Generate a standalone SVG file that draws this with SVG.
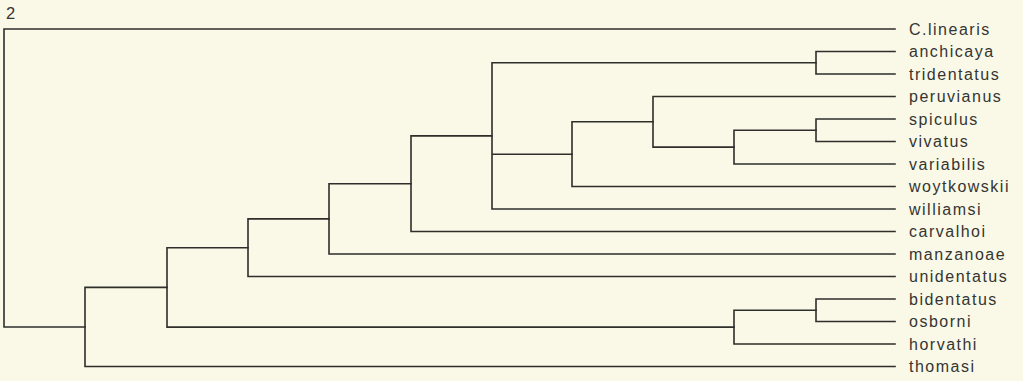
<svg xmlns="http://www.w3.org/2000/svg" width="1023" height="381" viewBox="0 0 1023 381">
<style>
.bg{fill:#faf9e8}
.e{fill:none;stroke:#2e2e2b;stroke-width:1.6;stroke-linecap:square}
.t{font-family:"Liberation Sans",Arial,sans-serif;font-size:16px;fill:#353531;letter-spacing:1.5px}
</style>
<rect class="bg" x="0" y="0" width="1023" height="381"/>
<text class="t" x="6" y="18.7" style="font-size:16.5px">2</text>
<g id="connectors">
<path class="e" d="M4,29 V327 M4,29 H895 M4,327 H85"/>
<path class="e" d="M85,287.4 V366.5 M85,366.5 H895 M85,287.4 H167"/>
<path class="e" d="M167,247.7 V327.1 M167,247.7 H248 M167,327.1 H734"/>
<path class="e" d="M734,310.25 V344 M734,344 H895 M734,310.25 H816"/>
<path class="e" d="M816,299 V321.5 M816,299 H895 M816,321.5 H895"/>
<path class="e" d="M248,218.85 V276.5 M248,276.5 H895 M248,218.85 H329"/>
<path class="e" d="M329,183.7 V254 M329,254 H895 M329,183.7 H411"/>
<path class="e" d="M411,135.9 V231.5 M411,231.5 H895 M411,135.9 H492"/>
<path class="e" d="M492,62.75 V209 M492,209 H895 M492,62.75 H816 M492,154.2 H572"/>
<path class="e" d="M816,51.5 V74 M816,51.5 H895 M816,74 H895"/>
<path class="e" d="M572,121.8 V186.5 M572,186.5 H895 M572,121.8 H653"/>
<path class="e" d="M653,96.5 V147.1 M653,96.5 H895 M653,147.1 H734"/>
<path class="e" d="M734,130.25 V164 M734,164 H895 M734,130.25 H816"/>
<path class="e" d="M816,119 V141.5 M816,119 H895 M816,141.5 H895"/>
</g>
<g id="n-clinearis"><text class="t" x="909" y="34.5">C.linearis</text></g>
<g id="n-anchicaya"><text class="t" x="909" y="57">anchicaya</text></g>
<g id="n-tridentatus"><text class="t" x="909" y="79.5">tridentatus</text></g>
<g id="n-peruvianus"><text class="t" x="909" y="102">peruvianus</text></g>
<g id="n-spiculus"><text class="t" x="909" y="124.5">spiculus</text></g>
<g id="n-vivatus"><text class="t" x="909" y="147">vivatus</text></g>
<g id="n-variabilis"><text class="t" x="909" y="169.5">variabilis</text></g>
<g id="n-woytkowskii"><text class="t" x="909" y="192">woytkowskii</text></g>
<g id="n-williamsi"><text class="t" x="909" y="214.5">williamsi</text></g>
<g id="n-carvalhoi"><text class="t" x="909" y="237">carvalhoi</text></g>
<g id="n-manzanoae"><text class="t" x="909" y="259.5">manzanoae</text></g>
<g id="n-unidentatus"><text class="t" x="909" y="282">unidentatus</text></g>
<g id="n-bidentatus"><text class="t" x="909" y="304.5">bidentatus</text></g>
<g id="n-osborni"><text class="t" x="909" y="327">osborni</text></g>
<g id="n-horvathi"><text class="t" x="909" y="349.5">horvathi</text></g>
<g id="n-thomasi"><text class="t" x="909" y="372">thomasi</text></g>
</svg>
